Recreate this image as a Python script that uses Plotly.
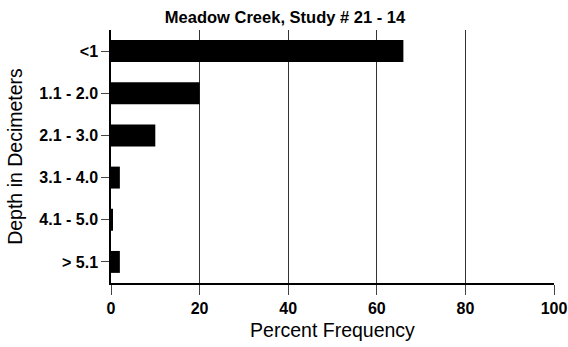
import plotly.graph_objects as go

categories = ["<1", "1.1 - 2.0", "2.1 - 3.0", "3.1 - 4.0", "4.1 - 5.0", "> 5.1"]
percent = [66, 20, 10, 2, 0.3, 2]
x_ticks = [0, 20, 40, 60, 80, 100]

fig = go.Figure(go.Bar(
    x=percent, y=categories, orientation="h",
    marker=dict(color="black", line=dict(width=0)),
    width=0.52,
))

W, H = 568, 347
font_family = "Liberation Sans, Arial, sans-serif"
fig.update_layout(
    width=W, height=H,
    margin=dict(l=111, r=14, t=30, b=64, autoexpand=False),
    plot_bgcolor="white", paper_bgcolor="white",
    showlegend=False,
    title=dict(text="<b>Meadow Creek, Study # 21 - 14</b>", x=285 / W, xanchor="center",
               y=1 - 17 / H, yanchor="middle", xref="container", yref="container",
               font=dict(family=font_family, size=16.5, color="black")),
    font=dict(family=font_family, color="black"),
)
fig.update_xaxes(
    range=[0, 100], tickvals=x_ticks, ticktext=[f"<b>{v}</b>" for v in x_ticks],
    tickfont=dict(size=16), showgrid=True, gridcolor="#333", gridwidth=1,
    showline=True, linecolor="black", linewidth=1.5,
    ticks="outside", ticklen=10, tickcolor="#444", ticklabeloverflow="allow",
    title=dict(text="Percent Frequency", font=dict(size=19.5), standoff=7),
    zeroline=False, automargin=False,
)
fig.update_yaxes(
    categoryorder="array", categoryarray=categories, autorange=False,
    range=[5.5, -0.5],
    tickvals=categories, ticktext=[f"<b>{c}</b>" for c in categories],
    tickfont=dict(size=16), showgrid=False,
    showline=True, linecolor="black", linewidth=1.5,
    ticks="outside", ticklen=8, tickcolor="#444",
    title=dict(text="Depth in Decimeters", font=dict(size=19.5), standoff=12),
    automargin=False,
)
fig.write_html("out.html", config={"displayModeBar": False},
               post_script="document.body.style.margin='0';document.body.style.overflow='hidden';")
